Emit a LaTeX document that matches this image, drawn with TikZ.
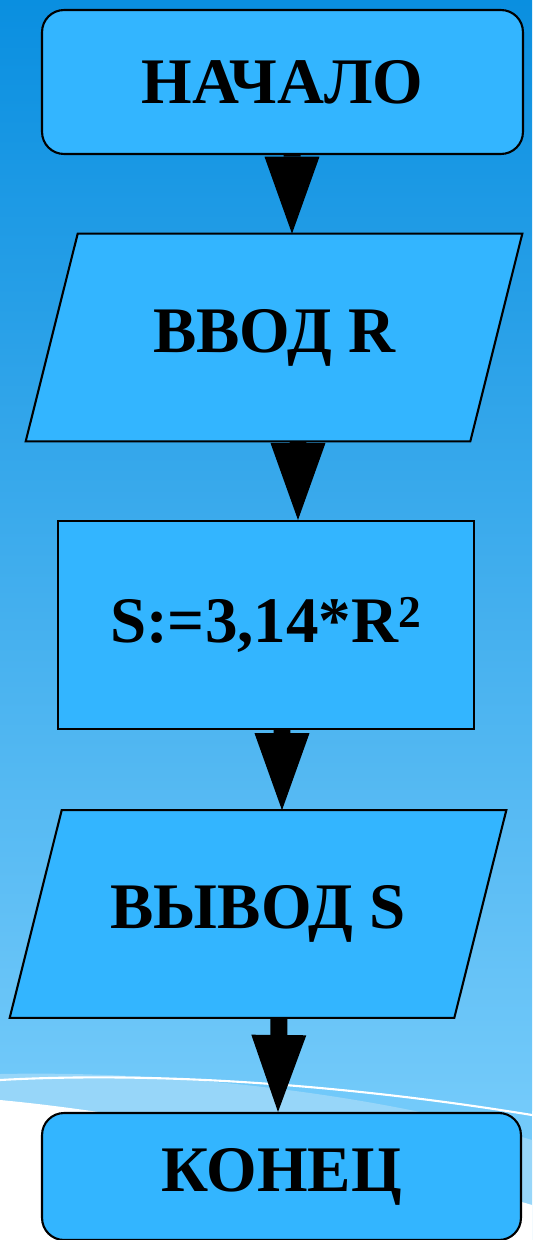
\documentclass[tikz,border=0pt]{standalone}
\usepackage{fontspec}
\setmainfont{Liberation Serif}
\usepackage{tikz}
\usetikzlibrary{arrows.meta,positioning,backgrounds}
\definecolor{BgTop}{RGB}{10,143,224}
\definecolor{BgLow}{RGB}{115,202,250}
\definecolor{BgBand}{RGB}{151,214,249}
\definecolor{BoxFill}{RGB}{51,181,255}
\pgfdeclarelayer{back}
\pgfsetlayers{back,background,main}

\begin{document}
\begin{tikzpicture}[
    x=0.02cm, y=-0.02cm,
    block/.style={
      draw=black,
      line width=1.2pt,
      fill=BoxFill,
      font=\fontsize{37}{44}\selectfont\bfseries,
      align=center,
      inner sep=0pt
    },
    terminal/.style={
      block,
      rounded corners=0.44cm,
      minimum width=#1,
      minimum height=2.88cm
    },
    io/.style={
      font=\fontsize{37}{44}\selectfont\bfseries,
      inner sep=0pt,
      minimum width=9.92cm,
      minimum height=4.14cm
    },
    iobox/.style={
      draw=black,
      line width=1.2pt,
      fill=BoxFill
    },
    process/.style={
      block,
      minimum width=8.32cm,
      minimum height=4.16cm
    },
    flow/.style={
      -{Triangle[width=1.1cm,length=1.54cm,line width=0pt]},
      line width=0.34cm
    }
  ]

  % background
  \useasboundingbox (0,0) rectangle (532,1240);
  \begin{pgfonlayer}{back}
    \shade[top color=BgTop, bottom color=BgLow] (0,0) rectangle (532,1110);
    \fill[BgLow] (0,1100) rectangle (532,1240);
    \fill[BgBand] (0,1074) .. controls (200,1070) and (400,1100) .. (532,1140)
      -- (532,1240) -- (0,1240) -- cycle;
    \fill[white] (0,1100) .. controls (150,1114) and (380,1160) .. (532,1205)
      -- (532,1240) -- (0,1240) -- cycle;
    \draw[white, line width=1.2pt] (0,1080) .. controls (180,1070) and (380,1090) .. (532,1115);
  \end{pgfonlayer}

  % Start
  \node[terminal=9.62cm] (start) at (282.5,82) {НАЧАЛО};

  % Input
  \node[io] (input) at (274,337.5) {ВВОД R};

  % Area
  \node[process] (calc) at (266,625) {S:=3,14*R\textsuperscript{2}};

  % Output
  \node[io] (output) at (258,914) {ВЫВОД S};

  % Stop
  \node[terminal=9.58cm, minimum height=2.54cm] (stop) at (281.5,1176.5) {КОНЕЦ};

  % parallelograms behind the text
  \begin{scope}[on background layer]
    \foreach \n in {input,output}
      \draw[iobox] ([xshift=1.04cm]\n.north west) -- (\n.north east)
        -- ([xshift=-1.04cm]\n.south east) -- (\n.south west) -- cycle;
  \end{scope}

  % arrows
  \draw[flow] ([xshift=1.9mm]start.south) -- ([xshift=3.6mm]input.north);
  \draw[flow] ([xshift=4.8mm]input.south) -- ([xshift=6.4mm]calc.north);
  \draw[flow] ([xshift=3.2mm]calc.south) -- ([xshift=4.8mm]output.north);
  \draw[flow] ([xshift=4.2mm]output.south) -- ([xshift=-0.7mm]stop.north);

\end{tikzpicture}
\end{document}
